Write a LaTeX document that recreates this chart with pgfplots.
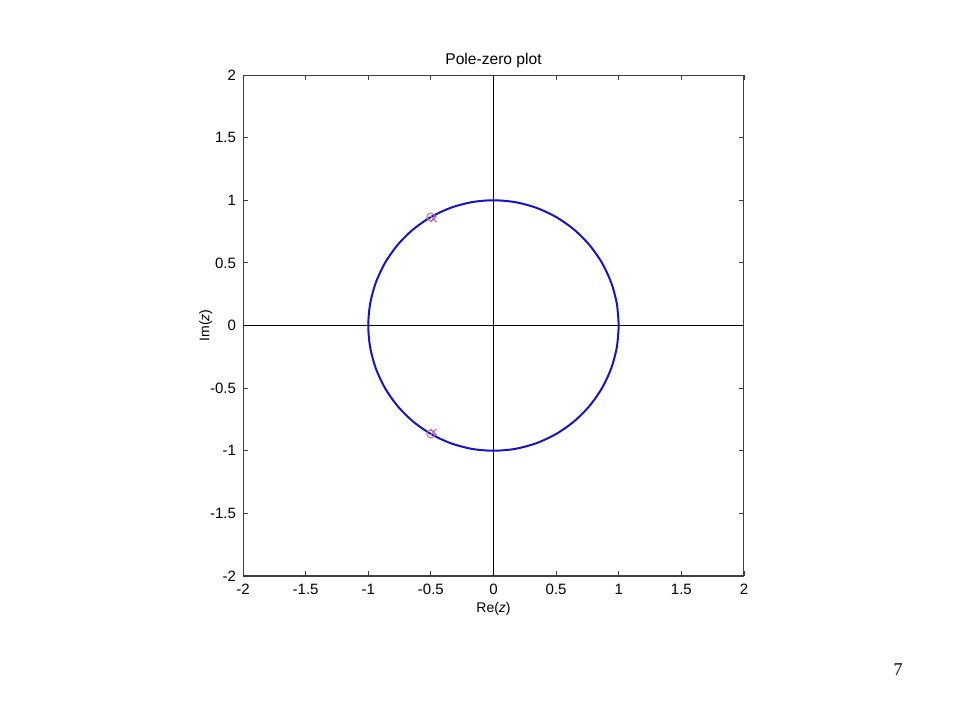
\documentclass[border=0pt]{standalone}
\usepackage{pgfplots}
\pgfplotsset{compat=1.18}
\usepackage{fontspec}
\setmainfont{Liberation Sans}
\newfontfamily\seriffont{Liberation Serif}
\definecolor{circblue}{RGB}{20,20,200}
\definecolor{pzcol}{RGB}{190,110,160}
\begin{document}
\begin{tikzpicture}
\path[use as bounding box] (0pt,0pt) rectangle (480pt,360pt);
\begin{axis}[
  at={(246.75pt,197.25pt)}, anchor=origin,
  scale only axis, width=250.5pt, height=250.5pt,
  xmin=-2, xmax=2, ymin=-2, ymax=2,
  xtick={-2,-1.5,...,2}, ytick={-2,-1.5,...,2},
  tick align=inside, major tick length=2.5pt,
  axis line style={line width=0.5pt, black!75},
  every tick/.style={black!75, line width=0.4pt},
  font=\fontsize{7}{8}\selectfont,
  tick label style={font=\fontsize{7.5}{8.5}\selectfont},
  /pgf/number format/assume math mode=true,
  xticklabel style={yshift=-0.5pt},
  title={Pole-zero plot},
  title style={yshift=-6pt, font=\fontsize{7.8}{9}\selectfont},
  xlabel={Re(\textit{z})}, ylabel={Im(\textit{z})},
  xlabel style={yshift=3pt}, ylabel style={yshift=-8pt},
  clip=false,
]
\addplot[black, line width=0.4pt] coordinates {(-2,0) (2,0)};
\addplot[black, line width=0.4pt] coordinates {(0,-2) (0,2)};
\addplot[circblue, line width=1pt, smooth] coordinates {
(1,0) (0.9848,0.1736) (0.9397,0.3420) (0.8660,0.5) (0.7660,0.6428) (0.6428,0.7660)
(0.5,0.8660) (0.3420,0.9397) (0.1736,0.9848) (0,1) (-0.1736,0.9848) (-0.3420,0.9397)
(-0.5,0.8660) (-0.6428,0.7660) (-0.7660,0.6428) (-0.8660,0.5) (-0.9397,0.3420) (-0.9848,0.1736)
(-1,0) (-0.9848,-0.1736) (-0.9397,-0.3420) (-0.8660,-0.5) (-0.7660,-0.6428) (-0.6428,-0.7660)
(-0.5,-0.8660) (-0.3420,-0.9397) (-0.1736,-0.9848) (0,-1) (0.1736,-0.9848) (0.3420,-0.9397)
(0.5,-0.8660) (0.6428,-0.7660) (0.7660,-0.6428) (0.8660,-0.5) (0.9397,-0.3420) (0.9848,-0.1736)
(1,0)};
\addplot[only marks, mark=o, mark size=2pt, pzcol, line width=0.5pt] coordinates {(-0.5,0.8660) (-0.5,-0.8660)};
\addplot[only marks, mark=x, mark size=2.2pt, pzcol, line width=0.5pt] coordinates {(-0.48,0.85) (-0.48,-0.85)};
\end{axis}
\node[font=\seriffont\fontsize{9}{10}\selectfont] at (449pt,25pt) {7};
\end{tikzpicture}
\end{document}
